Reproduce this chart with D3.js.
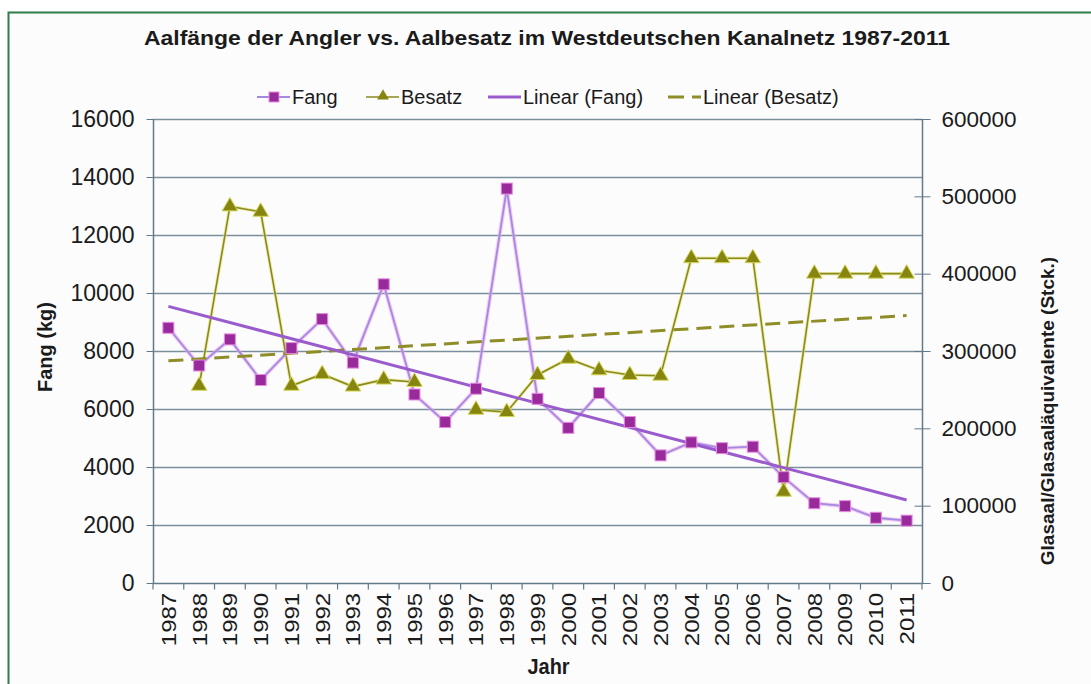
<!DOCTYPE html>
<html>
<head>
<meta charset="utf-8">
<script src="https://cdn.jsdelivr.net/npm/d3@7/dist/d3.min.js"></script>
<style>
  body { margin: 0; background: #fff; font-family: "Liberation Sans", Arial, sans-serif; }
  svg text { fill: #1b1b1b; }
  .axis path, .axis line { stroke: #62798a; }
</style>
</head>
<body>
<div id="container"></div>
<script>
// data
const years = ['1987', '1988', '1989', '1990', '1991', '1992', '1993', '1994', '1995',
    '1996', '1997', '1998', '1999', '2000', '2001', '2002', '2003', '2004', '2005',
    '2006', '2007', '2008', '2009', '2010', '2011']

const fang = [8800, 7500, 8400, 7000, 8100, 9100, 7600, 10300, 6500, 5550, 6700, 13600,
    6350, 5350, 6550, 5550, 4400, 4850, 4650, 4700, 3650, 2750, 2650, 2250, 2150]

// 1987 and 1996 have no value
const besatz = [null, 255000, 487000, 480000, 255000, 270000, 254000, 263000, 260000, null,
    224000, 221000, 269000, 290000, 275000, 269000, 268000, 420000, 420000, 420000,
    118000, 400000, 400000, 400000, 400000]

const leftTicks = [0, 2000, 4000, 6000, 8000, 10000, 12000, 14000, 16000]
const rightTicks = [0, 100000, 200000, 300000, 400000, 500000, 600000]

const title = 'Aalfänge der Angler vs. Aalbesatz im Westdeutschen Kanalnetz 1987-2011'

const W = 1091, H = 684
const plot = { left: 153, right: 922, top: 119, bottom: 583 }

const purple = '#992a9b', lavender = '#a28ae2', trendPurple = '#9a5ccc'
const olive = '#86850f', oliveLine = '#8a8a1e', oliveTrend = '#8e8d27'

const svg = d3.select('#container').append('svg')
    .attr('width', W).attr('height', H)

// green frame
svg.append('rect')
    .attr('x', 8.5).attr('y', 12.5).attr('width', W + 20).attr('height', H + 20)
    .attr('fill', '#fcfcfd').attr('stroke', '#2f7d48').attr('stroke-width', 2)

svg.append('text')
    .attr('x', 547).attr('y', 45)
    .attr('text-anchor', 'middle')
    .attr('textLength', 806).attr('lengthAdjust', 'spacingAndGlyphs')
    .style('font-size', '21px').style('font-weight', 'bold')
    .text(title)

const x = d3.scaleBand().domain(years).range([plot.left, plot.right])
const cx = d => x(d) + x.bandwidth() / 2
const yL = d3.scaleLinear().domain([0, 16000]).range([plot.bottom, plot.top])
const yR = d3.scaleLinear().domain([0, 600000]).range([plot.bottom, plot.top])

// gridlines
svg.append('g').selectAll('line')
    .data(leftTicks.slice(1))
    .enter().append('line')
    .attr('x1', plot.left).attr('x2', plot.right)
    .attr('y1', d => yL(d) + 0.5).attr('y2', d => yL(d) + 0.5)
    .attr('stroke', '#7a8e9c').attr('stroke-width', 1.3)

// left axis
const leftAxis = svg.append('g').attr('class', 'axis')
    .attr('transform', `translate(${plot.left + 0.5},0)`)
    .call(d3.axisLeft(yL).tickValues(leftTicks).tickSize(7).tickPadding(12).tickFormat(d3.format('d')))
leftAxis.select('.domain').attr('d', `M0,${plot.top}V${plot.bottom}`).attr('stroke-width', 1.5)
leftAxis.selectAll('text').style('font-size', '23px').attr('fill', '#1b1b1b')

// right axis, ticks cross the line
const rightAxis = svg.append('g').attr('class', 'axis')
    .attr('transform', `translate(${plot.right + 0.5},0)`)
    .call(d3.axisRight(yR).tickValues(rightTicks).tickSize(8).tickPadding(11).tickFormat(d3.format('d')))
rightAxis.select('.domain').attr('d', `M0,${plot.top}V${plot.bottom}`).attr('stroke-width', 1.5)
rightAxis.selectAll('.tick line').attr('x1', -8)
rightAxis.selectAll('text').style('font-size', '22.5px').attr('fill', '#1b1b1b')

// bottom axis
const bottomAxis = svg.append('g').attr('class', 'axis')
    .attr('transform', `translate(0,${plot.bottom + 0.5})`)
    .call(d3.axisBottom(x).tickSize(0))
bottomAxis.select('.domain').attr('d', `M${plot.left},0H${plot.right}`).attr('stroke-width', 1.5)
bottomAxis.selectAll('text')
    .attr('x', -8).attr('y', 0).attr('dy', '0.36em')
    .attr('transform', 'rotate(-90) scale(1.17,1)')
    .style('text-anchor', 'end').style('font-size', '20.5px').attr('fill', '#1b1b1b')
bottomAxis.append('g').selectAll('line')
    .data(years.concat(['end']))
    .enter().append('line')
    .attr('x1', d => d === 'end' ? plot.right : x(d))
    .attr('x2', d => d === 'end' ? plot.right : x(d))
    .attr('y1', 0).attr('y2', 6)
    .attr('stroke', '#62798a').attr('stroke-width', 1.2)

// axis titles
svg.append('text')
    .attr('transform', `translate(${W / 2 + 3},674) scale(1,1.12)`)
    .attr('text-anchor', 'middle')
    .style('font-size', '20px').style('font-weight', 'bold')
    .text('Jahr')

svg.append('text')
    .attr('transform', 'translate(52,347) rotate(-90)')
    .attr('text-anchor', 'middle')
    .style('font-size', '20px').style('font-weight', 'bold')
    .text('Fang (kg)')

svg.append('text')
    .attr('transform', 'translate(1054,411) rotate(-90)')
    .attr('text-anchor', 'middle')
    .style('font-size', '19px').style('font-weight', 'bold')
    .text('Glasaal/Glasaaläquivalente (Stck.)')

// linear trend, least squares on category index
const trend = (vals) => {
    const pts = vals.map((v, i) => [i, v]).filter(p => p[1] !== null)
    const mx = d3.mean(pts, p => p[0]), my = d3.mean(pts, p => p[1])
    const slope = d3.sum(pts, p => (p[0] - mx) * (p[1] - my)) / d3.sum(pts, p => (p[0] - mx) ** 2)
    return [0, vals.length - 1].map(i => [years[i], my + slope * (i - mx)])
}

// Besatz series
const besatzLine = d3.line()
    .defined(d => d[1] !== null)
    .x(d => cx(d[0])).y(d => yR(d[1]))
const besatzPts = years.map((yr, i) => [yr, besatz[i]])

svg.append('path').datum(besatzPts)
    .attr('d', besatzLine).attr('fill', 'none')
    .attr('stroke', '#e4e37a').attr('stroke-width', 3.5).attr('opacity', 0.6)
svg.append('path').datum(besatzPts)
    .attr('d', besatzLine).attr('fill', 'none')
    .attr('stroke', oliveLine).attr('stroke-width', 1.6)

// Fang series
const fangPts = years.map((yr, i) => [yr, fang[i]])
const fangLine = d3.line().x(d => cx(d[0])).y(d => yL(d[1]))
svg.append('path').datum(fangPts)
    .attr('d', fangLine).attr('fill', 'none')
    .attr('stroke', '#f0a8e8').attr('stroke-width', 4).attr('opacity', 0.6)
svg.append('path').datum(fangPts)
    .attr('d', fangLine).attr('fill', 'none')
    .attr('stroke', lavender).attr('stroke-width', 1.8)

// trend lines
svg.append('path').datum(trend(besatz))
    .attr('d', d3.line().x(d => cx(d[0])).y(d => yR(d[1])))
    .attr('fill', 'none').attr('stroke', oliveTrend).attr('stroke-width', 3)
    .attr('stroke-dasharray', '15,8')

svg.append('path').datum(trend(fang))
    .attr('d', d3.line().x(d => cx(d[0])).y(d => yL(d[1])))
    .attr('fill', 'none').attr('stroke', trendPurple).attr('stroke-width', 3)

// markers
const tri = d3.symbol().type(d3.symbolTriangle).size(105)
svg.append('g').selectAll('path')
    .data(besatzPts.filter(d => d[1] !== null))
    .enter().append('path')
    .attr('d', tri)
    .attr('transform', d => `translate(${cx(d[0])},${yR(d[1])})`)
    .attr('fill', olive).attr('stroke', '#d6d55a').attr('stroke-width', 1)

svg.append('g').selectAll('rect')
    .data(fangPts)
    .enter().append('rect')
    .attr('x', d => cx(d[0]) - 5.5).attr('y', d => yL(d[1]) - 5.5)
    .attr('width', 11).attr('height', 11)
    .attr('fill', purple).attr('stroke', '#e58de0').attr('stroke-width', 1)

// legend
const legendY = 97
const legend = svg.append('g').style('font-size', '20px')
const items = [
    { x: 257, label: 'Fang' },
    { x: 366, label: 'Besatz' },
    { x: 488, label: 'Linear (Fang)' },
    { x: 668, label: 'Linear (Besatz)' }
]
legend.selectAll('text').data(items).enter().append('text')
    .attr('x', d => d.x + 35).attr('y', legendY).attr('dy', '0.35em')
    .text(d => d.label)

legend.append('line').attr('x1', 257).attr('x2', 290).attr('y1', legendY).attr('y2', legendY)
    .attr('stroke', lavender).attr('stroke-width', 2)
legend.append('rect').attr('x', 269).attr('y', legendY - 5).attr('width', 10).attr('height', 10)
    .attr('fill', purple).attr('stroke', '#e58de0')
legend.append('line').attr('x1', 366).attr('x2', 399).attr('y1', legendY).attr('y2', legendY)
    .attr('stroke', oliveLine).attr('stroke-width', 1.6)
legend.append('path').attr('d', d3.symbol().type(d3.symbolTriangle).size(60))
    .attr('transform', `translate(383,${legendY - 1})`)
    .attr('fill', olive)
legend.append('line').attr('x1', 488).attr('x2', 521).attr('y1', legendY).attr('y2', legendY)
    .attr('stroke', trendPurple).attr('stroke-width', 3)
legend.append('line').attr('x1', 668).attr('x2', 701).attr('y1', legendY).attr('y2', legendY)
    .attr('stroke', oliveTrend).attr('stroke-width', 3).attr('stroke-dasharray', '16,8')
</script>
</body>
</html>
